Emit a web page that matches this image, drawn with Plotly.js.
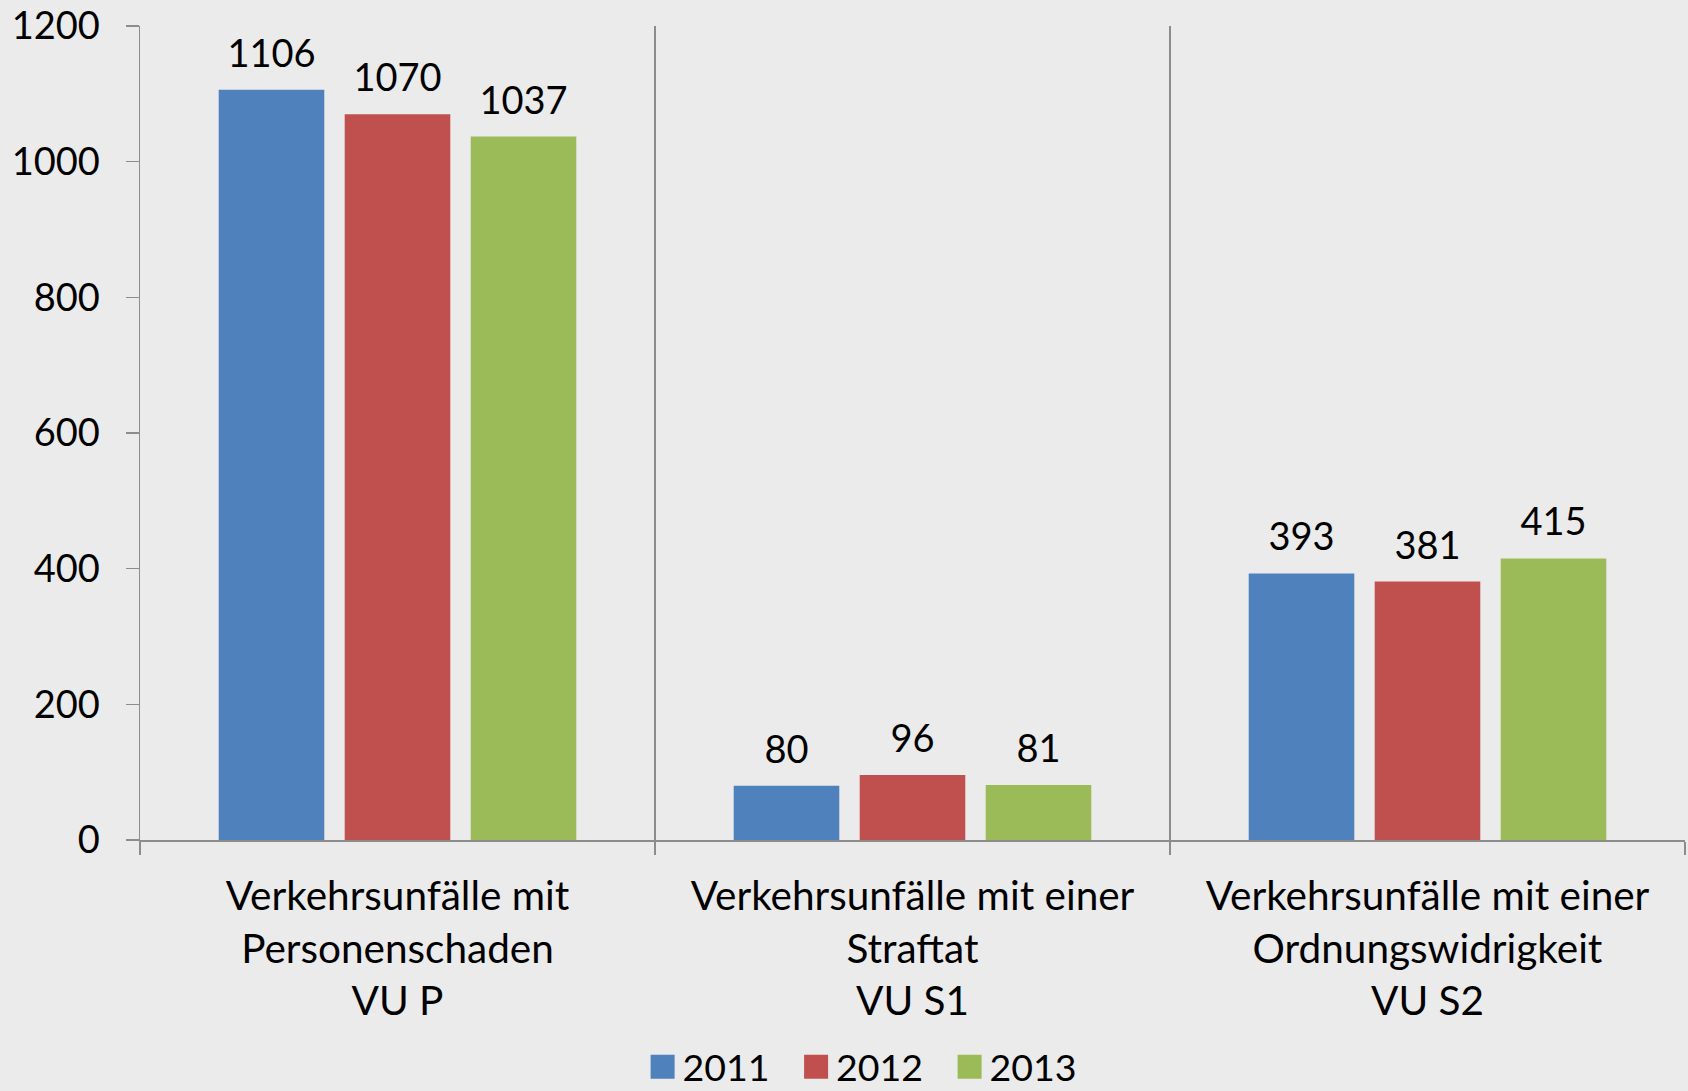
<!DOCTYPE html>
<html>
<head>
<meta charset="utf-8">
<script src="https://cdn.plot.ly/plotly-3.0.1.min.js"></script>
<style>html,body{margin:0;padding:0;background:#ebebeb;}#chart{width:1688px;height:1091px;}</style>
</head>
<body>
<div id="chart"></div>
<script>
const categories = [
  "Verkehrsunfälle mit<br>Personenschaden<br>VU P",
  "Verkehrsunfälle mit einer<br>Straftat<br>VU S1",
  "Verkehrsunfälle mit einer<br>Ordnungswidrigkeit<br>VU S2"
];
const years = ["2011", "2012", "2013"];
const values2011 = [1106, 80, 393];
const values2012 = [1070, 96, 381];
const values2013 = [1037, 81, 415];
const seriesValues = [values2011, values2012, values2013];
const seriesColors = ["#4F81BD", "#C0504D", "#9BBB59"];
const yTicks = [0, 200, 400, 600, 800, 1000, 1200];

const FONT = "Lato, 'Open Sans', sans-serif";
const GAP = 0.266;
const NUM_SIZE = 38;

const traces = [];
seriesValues.forEach((vals, i) => {
  traces.push({
    type: "bar",
    name: years[i],
    x: categories,
    y: vals,
    marker: {color: seriesColors[i], line: {width: 0}},
    hoverinfo: "skip"
  });
});
seriesValues.forEach((vals, i) => {
  traces.push({
    type: "scatter",
    mode: "markers+text",
    x: categories,
    y: vals,
    text: vals.map(String),
    textposition: "top center",
    textfont: {family: FONT, size: NUM_SIZE, color: "#000"},
    marker: {size: 20, opacity: 0, color: seriesColors[i]},
    showlegend: false,
    hoverinfo: "skip",
    cliponaxis: false
  });
});

const layout = {
  width: 1688,
  height: 1091,
  paper_bgcolor: "#ebebeb",
  plot_bgcolor: "#ebebeb",
  font: {family: FONT, size: NUM_SIZE, color: "#000"},
  margin: {l: 140, r: 3, t: 26, b: 251, autoexpand: false},
  barmode: "group",
  bargap: GAP,
  bargroupgap: 0.162,
  scattermode: "group",
  scattergap: GAP,
  showlegend: true,
  legend: {
    orientation: "h",
    x: 0.4745, xanchor: "center",
    y: -0.2405, yanchor: "top",
    font: {family: FONT, size: 37.5, color: "#000"},
    bgcolor: "rgba(0,0,0,0)",
    entrywidth: 108.5,
    itemclick: false,
    itemdoubleclick: false,
    traceorder: "normal"
  },
  xaxis: {
    type: "category",
    tickson: "boundaries",
    ticks: "outside",
    ticklen: 13,
    tickwidth: 1.5,
    tickcolor: "#8c8c8c",
    showline: true,
    linecolor: "#8c8c8c",
    linewidth: 1.5,
    showgrid: true,
    gridcolor: "#8c8c8c",
    gridwidth: 1.5,
    tickfont: {family: FONT, size: 40.5, color: "#000"},
    ticklabelstandoff: 20,
    fixedrange: true
  },
  yaxis: {
    range: [0, 1200],
    tickvals: yTicks,
    ticktext: yTicks.map(String),
    ticks: "outside",
    ticklen: 13,
    tickwidth: 1.5,
    tickcolor: "#8c8c8c",
    showline: true,
    linecolor: "#8c8c8c",
    linewidth: 1.5,
    showgrid: false,
    zeroline: false,
    tickfont: {family: FONT, size: NUM_SIZE, color: "#000"},
    ticklabelstandoff: 18,
    fixedrange: true
  }
};

Plotly.newPlot("chart", traces, layout, {displayModeBar: false, staticPlot: true}).then(() => {
  document.querySelectorAll(".legend .legendpoints path").forEach(p => {
    p.setAttribute("d", "M12,12H-12V-12H12Z");
  });
});
</script>
</body>
</html>
